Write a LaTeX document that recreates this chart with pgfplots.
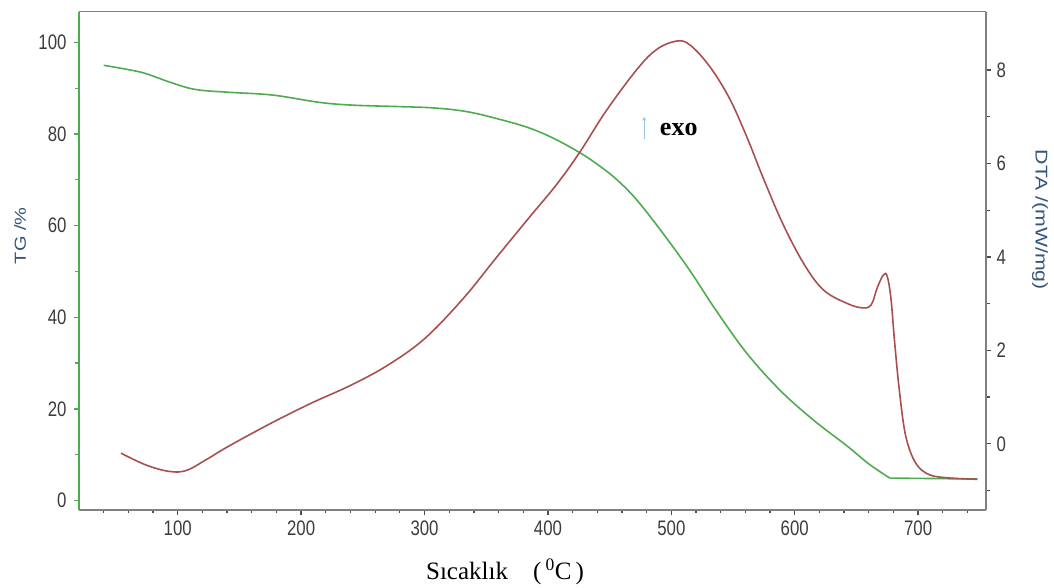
\documentclass[border=0pt]{standalone}
\usepackage{fontspec}
\setmainfont{Liberation Serif}
\newfontfamily\tickfont[FakeStretch=0.8]{Liberation Sans}
\newfontfamily\labfont[FakeStretch=1.25]{Liberation Sans}
\usepackage{pgfplots}
\usepackage{pgfplotstable}
\usetikzlibrary{arrows.meta}
\pgfplotsset{compat=1.18}

\definecolor{tgGreen}{RGB}{80,170,80}
\definecolor{dtaRed}{RGB}{168,80,80}
\definecolor{frameGray}{RGB}{128,128,128}
\definecolor{tickText}{RGB}{60,60,60}
\definecolor{labBlue}{RGB}{50,85,125}
\definecolor{arrowBlue}{RGB}{150,195,230}

% TG curve (temperature, mass %), mass loss part
\pgfplotstableread{
T    tg
40   95.0
61   94.0
74   93.2
96   91.1
115  89.7
142  89.1
177  88.5
215  86.9
242  86.3
277  86.0
307  85.7
334  84.9
361  83.2
385  81.3
405  79.0
426  75.9
441  73.2
456  70.0
472  65.6
493  58.4
515  50.2
536  41.6
561  32.2
588  24.1
615  17.6
642  12.0
660  8.0
677  4.9
}\tgdata

% TG residue plateau
\pgfplotstableread{
T    tg
677  4.9
748  4.7
}\tgres

% DTA curve (temperature, mW/mg)
\pgfplotstableread{
T    dta
54   -0.20
74   -0.45
93   -0.59
107  -0.57
123  -0.34
142  -0.04
177  0.46
209  0.88
240  1.25
270  1.68
300  2.25
331  3.10
358  3.98
385  4.85
407  5.55
426  6.25
447  7.12
472  8.01
488  8.44
504  8.62
515  8.54
531  8.08
547  7.40
561  6.58
574  5.72
590  4.73
607  3.87
623  3.30
642  3.01
655  2.91
662  2.98
667  3.35
672  3.62
675  3.58
678  3.10
681  2.16
685  1.09
690  0.16
698  -0.41
709  -0.66
725  -0.73
748  -0.76
}\dtadata

\pgfplotsset{
  common/.style={
    width=907bp, height=498bp, scale only axis,
    xmin=20, xmax=755,
    tick align=outside,
    major tick length=5bp, minor tick length=3.5bp,
    /pgf/number format/assume math mode=true,
    ticklabel style={font=\tickfont\fontsize{21bp}{21bp}\selectfont, text=tickText},
  },
}

\begin{document}
\begin{tikzpicture}
  \begin{axis}[common, name=tg,
    ymin=-2, ymax=106.7,
    axis x line*=bottom, axis y line*=left,
    x axis line style={frameGray, line width=1.6bp, -},
    y axis line style={tgGreen, line width=1.6bp, -},
    xtick={100,200,...,700}, minor xtick={40,60,...,740},
    ytick={0,20,...,100}, minor ytick={10,30,...,90},
    x tick style={black!70, line width=1.3bp},
    y tick style={tgGreen, line width=1.3bp},
    xticklabel style={yshift=-3bp},
    yticklabel style={xshift=-4bp},
    xlabel={Sıcaklık\quad(\,\textsuperscript{0}C\,)},
    xlabel style={font=\fontsize{25bp}{25bp}\selectfont, at={(axis description cs:0.4697,-0.1244)}, anchor=center},
    ylabel={TG /\%},
    ylabel style={font=\labfont\fontsize{16bp}{16bp}\selectfont, text=labBlue,
      at={(axis description cs:-0.065,0.55)}, anchor=center},
  ]
    \addplot[tgGreen, line width=1.6bp, smooth, tension=0.6] table[x=T, y=tg] {\tgdata};
    \addplot[tgGreen, line width=1.6bp] table[x=T, y=tg] {\tgres};
  \end{axis}
  \begin{axis}[common,
    ymin=-1.41, ymax=9.25,
    axis x line*=top, axis y line*=right,
    x axis line style={frameGray, line width=1.6bp, -},
    y axis line style={frameGray, line width=1.6bp, -},
    xtick=\empty,
    ytick={0,2,...,8}, minor ytick={-1,1,3,5,7},
    y tick style={black!70, line width=1.3bp},
    yticklabel style={xshift=2bp},
    ylabel={DTA /(mW/mg)},
    ylabel style={font=\labfont\fontsize{17bp}{17bp}\selectfont, text=labBlue,
      at={(axis description cs:1.0596,0.582)}, anchor=center, rotate=180},
  ]
    \addplot[dtaRed, line width=1.6bp, smooth, tension=0.6] table[x=T, y=dta] {\dtadata};
    \draw[arrowBlue, line width=1.1bp, -{Stealth[length=4bp, width=4bp]}] (axis cs:478,6.52) -- (axis cs:478,7.0);
    \node[font=\bfseries\fontsize{26bp}{26bp}\selectfont, anchor=center] at (axis cs:506,6.72) {exo};
  \end{axis}
  \pgfresetboundingbox
  \path[use as bounding box] ([shift={(-79bp,-78bp)}]tg.south west) rectangle ([shift={(68bp,11.7bp)}]tg.north east);
\end{tikzpicture}
\end{document}
